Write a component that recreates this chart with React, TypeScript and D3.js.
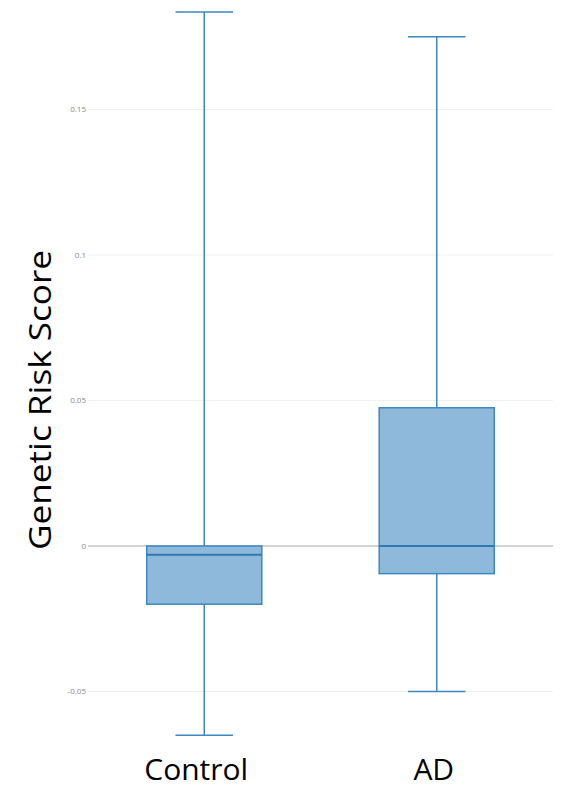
import React from "react";
import * as d3 from "d3";

const categories = ["Control", "AD"];
const whiskerLow = [-0.065, -0.05];
const q1 = [-0.02, -0.0095];
const median = [-0.003, 0];
const q3 = [0, 0.0475];
const whiskerHigh = [0.1835, 0.175];
const tickValues = [-0.05, 0, 0.05, 0.1, 0.15];
const tickLabels = ["-0.05", "0", "0.05", "0.1", "0.15"];

const W = 569;
const H = 792;

export default function App() {
  const x = d3.scaleBand<string>().domain(categories).range([88, 553]).padding(0);
  const y = d3.scaleLinear().domain([0, 0.05]).range([546, 400.5]);
  const boxW = x.bandwidth() * 0.495;
  const capW = boxW * 0.5;
  const stroke = "#3d87c2";
  const fill = "#8fb9da";
  const labelShift = [-8, -3];

  return (
    <svg width={W} height={H} style={{ position: "absolute", left: 0, top: 0, background: "#fff" }}>
      {tickValues.map((t, i) => (
        <g key={t}>
          <line
            x1={88}
            x2={553}
            y1={y(t)}
            y2={y(t)}
            stroke={t === 0 ? "#a8a8a8" : "#f0f0f0"}
            strokeWidth={t === 0 ? 1.2 : 1}
          />
          <text
            x={86}
            y={y(t)}
            dy="0.35em"
            textAnchor="end"
            fontSize={8}
            fill="#8a8a8a"
            fontFamily="Open Sans, sans-serif"
          >
            {tickLabels[i]}
          </text>
        </g>
      ))}
      {categories.map((c, i) => {
        const cx = (x(c) as number) + x.bandwidth() / 2;
        return (
          <g key={c}>
            <line x1={cx} x2={cx} y1={y(whiskerHigh[i])} y2={y(q3[i])} stroke={stroke} strokeWidth={1.5} />
            <line x1={cx} x2={cx} y1={y(q1[i])} y2={y(whiskerLow[i])} stroke={stroke} strokeWidth={1.5} />
            <line x1={cx - capW / 2} x2={cx + capW / 2} y1={y(whiskerHigh[i])} y2={y(whiskerHigh[i])} stroke={stroke} strokeWidth={1.5} />
            <line x1={cx - capW / 2} x2={cx + capW / 2} y1={y(whiskerLow[i])} y2={y(whiskerLow[i])} stroke={stroke} strokeWidth={1.5} />
            <rect
              x={cx - boxW / 2}
              y={y(q3[i])}
              width={boxW}
              height={y(q1[i]) - y(q3[i])}
              fill={fill}
              stroke={stroke}
              strokeWidth={1.5}
            />
            <line x1={cx - boxW / 2} x2={cx + boxW / 2} y1={y(median[i])} y2={y(median[i])} stroke="#2f78b2" strokeWidth={1.8} />
            <text
              x={cx + labelShift[i]}
              y={780}
              textAnchor="middle"
              fontSize={30}
              fill="#000"
              fontFamily="Open Sans, sans-serif"
            >
              {c}
            </text>
          </g>
        );
      })}
      <text
        transform={`translate(51, 400) rotate(-90)`}
        textAnchor="middle"
        fontSize={31}
        textLength={300}
        lengthAdjust="spacingAndGlyphs"
        fill="#000"
        fontFamily="Open Sans, sans-serif"
      >
        Genetic Risk Score
      </text>
    </svg>
  );
}
